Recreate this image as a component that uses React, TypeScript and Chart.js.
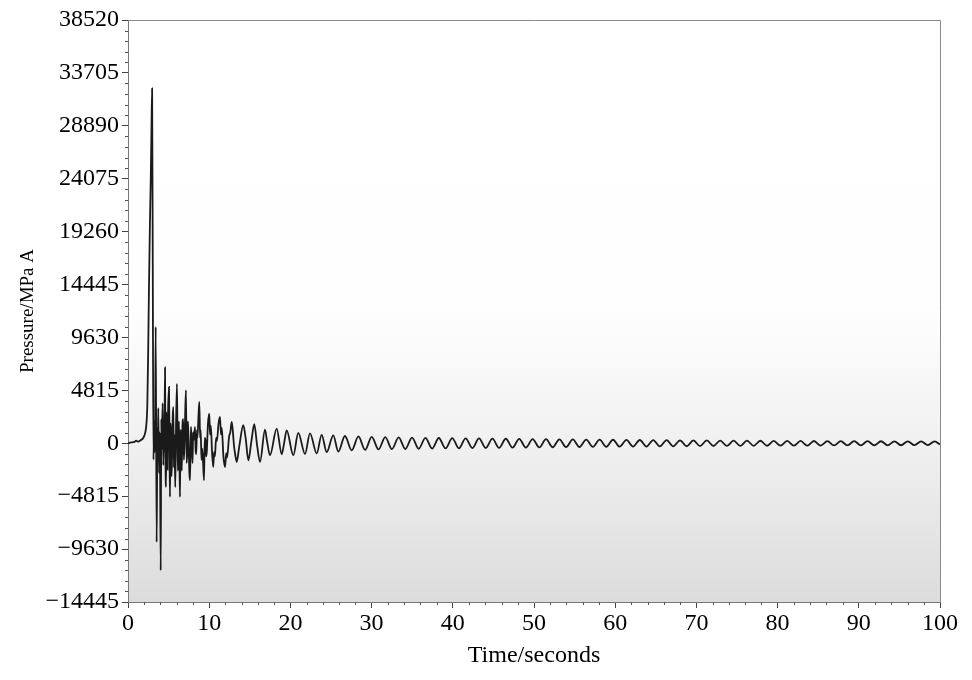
import React, { useEffect, useRef } from "react";
import { Chart, registerables } from "chart.js";

Chart.register(...registerables);

// Pre-ignition rise and main peak (seconds / MPa A)
const riseTime = [0.0, 0.4, 0.8, 1.0, 1.2, 1.6, 1.9, 2.1, 2.25, 2.38, 2.48, 2.58, 2.7, 2.8, 2.88, 2.97];
const risePressure = [0, 80, 120, 250, 150, 300, 500, 900, 1600, 3500, 8000, 14000, 20000, 24000, 28000, 32300];

// Violent burst after the peak
const burstTime = [
  3.05, 3.14, 3.22, 3.32, 3.41, 3.53, 3.62,
  3.68, 3.73, 3.82, 3.92, 4.03, 4.1, 4.15,
  4.27, 4.35, 4.41, 4.47, 4.56, 4.62, 4.68,
  4.75, 4.8, 4.87, 4.93, 5.05, 5.12, 5.17,
  5.24, 5.3, 5.36, 5.42, 5.5, 5.58, 5.65,
  5.72, 5.82, 5.92, 6.03, 6.1, 6.15, 6.27,
  6.33, 6.4, 6.47, 6.55, 6.62, 6.7, 6.8,
  6.88, 6.95, 7.04, 7.14, 7.22, 7.3, 7.38,
  7.45, 7.55, 7.64, 7.75, 7.82, 7.95, 8.02,
  8.1, 8.25, 8.32, 8.4, 8.5, 8.55, 8.68,
  8.78, 8.88, 8.95, 9.05, 9.15, 9.36, 9.45,
  9.55, 9.62, 9.7, 9.85, 10.01, 10.1, 10.2,
  10.35, 10.5, 10.6, 10.7, 10.85, 10.95, 11.15,
  11.33, 11.45, 11.55, 11.75, 11.95, 12.1, 12.2,
  12.45, 12.6, 12.77, 12.9, 13.05, 13.2, 13.39,
];
const burstPressure = [
  16000, -1500, 2000, -800, 10600, -9000, 1500,
  -500, 3200, -2700, 1000, -11560, 2200, -600,
  3640, -2000, 1500, -800, 6900, -1800, -3970,
  2800, 500, -2400, 2500, 5120, -1000, -4880,
  1800, 800, -3000, -1500, 2300, 3300, -2200,
  800, -4000, 1800, 5400, 200, -2500, 2000,
  -1000, -4890, 1200, 500, -2500, 1400, 2200,
  -1500, -300, 2600, 4820, -1800, -800, 2000,
  500, -2600, -3370, 1500, 500, -1800, 1000,
  300, 1480, -500, -1000, 1200, 500, 2500,
  3760, 500, 1200, -1500, -500, -3370, 500,
  200, -1200, -800, 1800, 2700, 800, 1600,
  -800, -2160, -800, -1200, 500, 200, 1800,
  2390, 800, 1400, -1200, -2160, -900, -1300,
  600, 1000, 1940, 1200, -200, -1000, -1700,
];

// Decaying ringing (peaks and troughs)
const ringTime = [
  13.7, 14.2, 14.5, 14.82, 15.2, 15.55, 15.9, 16.26, 16.87, 17.1, 17.49, 18.31, 18.93,
  19.2, 19.54, 20.36, 20.97, 21.8, 22.41, 23.24, 23.85, 24.47, 25.28, 25.9, 26.72,
  27.55, 28.38, 29.2, 30.02, 30.85, 31.68, 32.5, 33.33, 34.15, 34.98, 35.8, 36.63,
  37.45, 38.28, 39.1, 39.93, 40.75, 41.58, 42.4, 43.23, 44.05, 44.88, 45.7, 46.53,
  47.35, 48.18, 49.0, 49.83, 50.65, 51.48, 52.3, 53.13, 53.95, 54.78, 55.6, 56.43,
  57.25, 58.08, 58.9, 59.73, 60.55, 61.38, 62.2, 63.03, 63.85, 64.68, 65.5, 66.33,
  67.15, 67.98, 68.8, 69.63, 70.45, 71.28, 72.1, 72.93, 73.75, 74.58, 75.4, 76.23,
  77.05, 77.88, 78.7, 79.53, 80.35, 81.18, 82.0, 82.83, 83.65, 84.48, 85.3, 86.13,
  86.95, 87.78, 88.6, 89.43, 90.25, 91.08, 91.9, 92.73, 93.55, 94.38, 95.2, 96.03,
  96.85, 97.68, 98.5, 99.33, 100.0,
];
const ringPressure = [
  -300, 1640, 400, -1550, 200, 1730, -200, -1700, 1250, 300, -1090, 1340, -1000,
  -100, 1180, -1090, 950, -980, 900, -920, 760, -800, 720, -760, 660,
  -640, 620, -600, 580, -560, 560, -540, 540, -520, 520, -500, 500,
  -480, 480, -470, 470, -460, 450, -440, 440, -430, 420, -420, 410,
  -400, 400, -390, 380, -380, 370, -360, 360, -350, 350, -340, 340,
  -330, 330, -320, 320, -310, 310, -300, 300, -300, 290, -290, 280,
  -280, 270, -270, 260, -260, 255, -250, 250, -245, 240, -240, 235,
  -230, 230, -225, 220, -220, 215, -215, 210, -210, 205, -205, 200,
  -200, 200, -195, 195, -190, 190, -190, 185, -185, 180, -180, 180,
  -175, 175, -175, 170, -100,
];

const xTickValues = [0, 10, 20, 30, 40, 50, 60, 70, 80, 90, 100];
const yTickValues = [-14445, -9630, -4815, 0, 4815, 9630, 14445, 19260, 24075, 28890, 33705, 38520];
const xMinorStep = 2;
const yMinorStep = 963;

const FONT = "'Liberation Serif', 'Times New Roman', serif";

const bgPlugin = {
  id: "bgGradient",
  beforeDraw(chart: any) {
    const { ctx, chartArea } = chart;
    if (!chartArea) return;
    const { left, top, right, bottom } = chartArea;
    const g = ctx.createLinearGradient(0, top, 0, bottom);
    g.addColorStop(0, "#ffffff");
    g.addColorStop(0.5, "#fefefe");
    g.addColorStop(0.72, "#f1f1f1");
    g.addColorStop(1, "#dcdcdc");
    ctx.save();
    ctx.fillStyle = g;
    ctx.fillRect(left, top, right - left, bottom - top);
    ctx.restore();
  },
};

const framePlugin = {
  id: "frameAndMinor",
  afterDraw(chart: any) {
    const { ctx, chartArea, scales } = chart;
    const { left, top, right, bottom } = chartArea;
    ctx.save();
    ctx.lineWidth = 1;
    ctx.strokeStyle = "#8a8a8a";
    ctx.beginPath();
    ctx.moveTo(left, top + 0.5);
    ctx.lineTo(right + 0.5, top + 0.5);
    ctx.lineTo(right + 0.5, bottom);
    ctx.stroke();
    // minor ticks
    ctx.strokeStyle = "#555";
    ctx.beginPath();
    const xs = scales.x;
    const ys = scales.y;
    for (let v = xs.min; v <= xs.max + 1e-9; v += xMinorStep) {
      if (xTickValues.includes(Math.round(v))) continue;
      const px = Math.round(xs.getPixelForValue(v)) + 0.5;
      ctx.moveTo(px, bottom);
      ctx.lineTo(px, bottom + 3);
    }
    for (let v = ys.min; v <= ys.max + 1e-6; v += yMinorStep) {
      if (yTickValues.includes(Math.round(v))) continue;
      const py = Math.round(ys.getPixelForValue(v)) + 0.5;
      ctx.moveTo(left, py);
      ctx.lineTo(left - 3, py);
    }
    ctx.stroke();
    ctx.restore();
  },
};

export default function App() {
  const ref = useRef<HTMLCanvasElement | null>(null);
  useEffect(() => {
    if (!ref.current) return;
    const timeSec = [...riseTime, ...burstTime, ...ringTime];
    const pressure = [...risePressure, ...burstPressure, ...ringPressure];
    const points = timeSec.map((t, i) => ({ x: t, y: pressure[i] }));
    const chart = new Chart(ref.current, {
      type: "line",
      data: {
        datasets: [
          {
            data: points,
            borderColor: "#1a1a1a",
            borderWidth: 1.8,
            pointRadius: 0,
            fill: false,
            cubicInterpolationMode: "monotone",
          },
        ],
      },
      options: {
        animation: false,
        responsive: false,
        maintainAspectRatio: false,
        layout: { padding: { top: 20, right: 32, left: 0, bottom: 0 } },
        plugins: { legend: { display: false }, tooltip: { enabled: false } },
        scales: {
          x: {
            type: "linear",
            min: 0,
            max: 100,
            afterBuildTicks: (s: any) => {
              s.ticks = xTickValues.map((v) => ({ value: v }));
            },
            afterFit: (s: any) => {
              s.height = 78;
            },
            ticks: {
              font: { family: FONT, size: 24 },
              color: "#000",
              padding: 1,
              maxRotation: 0,
              autoSkip: false,
            },
            grid: { drawOnChartArea: false, drawTicks: true, tickLength: 6, tickColor: "#444" },
            border: { display: true, color: "#777", width: 1 },
            title: {
              display: true,
              text: "Time/seconds",
              font: { family: FONT, size: 24 },
              color: "#000",
              padding: { top: 0, bottom: 10 },
            },
          },
          y: {
            type: "linear",
            min: -14445,
            max: 38520,
            afterBuildTicks: (s: any) => {
              s.ticks = yTickValues.map((v) => ({ value: v }));
            },
            afterFit: (s: any) => {
              s.width = 128;
            },
            ticks: {
              font: { family: FONT, size: 24 },
              color: "#000",
              padding: 3,
              autoSkip: false,
              callback: (v: any) => (Number(v) < 0 ? "\u2212" + Math.abs(Number(v)) : String(v)),
            },
            grid: { drawOnChartArea: false, drawTicks: true, tickLength: 6, tickColor: "#444" },
            border: { display: true, color: "#777", width: 1 },
            title: {
              display: true,
              text: "Pressure/MPa A",
              font: { family: FONT, size: 19 },
              color: "#000",
              padding: { top: 17, bottom: 0 },
            },
          },
        },
      },
      plugins: [bgPlugin, framePlugin],
    });
    return () => chart.destroy();
  }, []);
  return (
    <canvas
      ref={ref}
      width={972}
      height={680}
      style={{ position: "fixed", left: 0, top: 0, display: "block", width: 972, height: 680 }}
    />
  );
}
